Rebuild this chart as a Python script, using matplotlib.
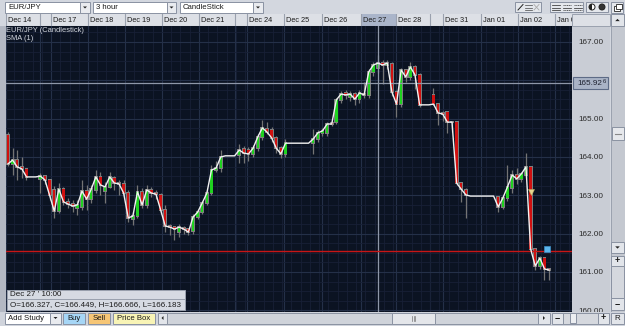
import matplotlib
matplotlib.use('Agg')
import matplotlib.pyplot as plt
from matplotlib.patches import Rectangle, Polygon, Circle, Wedge
from matplotlib.ticker import FixedLocator, MultipleLocator
from matplotlib import transforms

plt.rcParams['font.family'] = ['Liberation Sans', 'DejaVu Sans']

# ---------------- data (EUR/JPY, 3-hour candles) ----------------
opens = [164.57, 163.82, 163.92, 163.74, 163.69, 163.48, 163.48, 163.42, 163.50, 163.40,
         163.13, 162.59, 163.16, 162.83, 162.77, 162.67, 162.70, 163.11, 162.90, 163.14,
         163.48, 163.10, 163.22, 163.45, 163.32, 163.30, 163.06, 162.38, 162.46, 163.09,
         162.75, 163.14, 163.06, 163.01, 162.62, 162.20, 162.17, 162.04, 162.15, 162.12,
         162.07, 162.43, 162.56, 162.80, 163.06, 163.66, 163.71, 164.03, 164.03, 164.03,
         164.05, 164.21, 164.18, 164.08, 164.23, 164.52, 164.73, 164.70, 164.50, 164.23,
         164.08, 164.36, 164.36, 164.36, 164.36, 164.36, 164.36, 164.47, 164.63, 164.63,
         164.89, 164.91, 165.49, 165.67, 165.57, 165.64, 165.51, 165.64, 165.62, 166.22,
         166.327, 166.45, 166.40, 166.43, 165.70, 165.38, 166.27, 166.09, 166.35, 166.14,
         165.36, 165.36, 165.62, 165.38, 165.15, 165.17, 164.91, 164.91, 163.32, 163.14,
         162.98, 162.98, 162.98, 162.98, 162.98, 162.98, 162.96, 162.70, 162.93, 163.19,
         163.53, 163.43, 163.53, 163.74, 161.60, 161.16, 161.36, 161.08]
highs = [164.65, 164.23, 164.18, 164.00, 163.72, 163.48, 163.48, 163.58, 163.52, 163.42,
         163.23, 163.32, 163.21, 162.93, 162.88, 162.88, 163.40, 163.27, 163.27, 163.66,
         163.61, 163.35, 163.61, 163.50, 163.40, 163.40, 163.14, 162.56, 163.27, 163.19,
         163.27, 163.22, 163.14, 163.06, 162.75, 162.25, 162.20, 162.25, 162.20, 162.15,
         162.50, 162.62, 162.85, 163.14, 163.79, 163.90, 164.18, 164.03, 164.03, 164.03,
         164.35, 164.28, 164.25, 164.30, 164.60, 164.96, 164.90, 164.78, 164.55, 164.28,
         164.47, 164.36, 164.36, 164.36, 164.36, 164.36, 164.73, 164.70, 164.75, 164.92,
         164.95, 165.55, 165.72, 165.75, 165.72, 165.70, 165.75, 165.95, 166.30, 166.48,
         166.666, 166.52, 166.52, 166.48, 165.75, 166.32, 166.30, 166.48, 166.40, 166.18,
         165.36, 165.36, 165.80, 165.40, 165.20, 165.20, 164.95, 164.93, 163.35, 163.18,
         162.98, 162.98, 162.98, 162.98, 162.98, 162.98, 162.98, 162.98, 163.79, 163.65,
         163.70, 163.62, 164.10, 163.76, 161.62, 161.42, 161.40, 161.10]
lows = [163.77, 163.53, 163.40, 163.45, 163.40, 163.48, 163.48, 163.06, 163.30, 162.88,
        162.40, 162.54, 162.75, 162.67, 162.56, 162.49, 162.62, 162.62, 162.80, 163.06,
        163.00, 162.80, 163.18, 163.14, 163.00, 162.98, 162.30, 162.23, 162.41, 162.67,
        162.67, 162.96, 162.90, 162.51, 162.04, 161.96, 161.84, 161.90, 161.98, 161.96,
        162.00, 162.38, 162.51, 162.75, 163.00, 163.60, 163.61, 164.03, 164.03, 164.03,
        163.85, 163.85, 163.90, 164.00, 164.15, 164.45, 164.60, 164.40, 164.10, 163.97,
        164.00, 164.36, 164.36, 164.36, 164.36, 164.36, 164.08, 164.40, 164.55, 164.55,
        164.80, 164.86, 165.40, 165.50, 165.45, 165.35, 165.40, 165.55, 165.55, 166.10,
        166.183, 165.90, 166.30, 165.60, 165.05, 165.30, 165.95, 166.00, 165.77, 165.30,
        165.36, 165.36, 165.35, 164.83, 164.95, 164.63, 164.65, 163.28, 162.83, 162.41,
        162.98, 162.98, 162.98, 162.98, 162.98, 162.98, 162.56, 162.65, 162.85, 163.05,
        163.30, 163.35, 163.45, 161.55, 161.05, 161.08, 160.79, 160.80]
closes = [163.82, 163.92, 163.74, 163.69, 163.48, 163.48, 163.48, 163.50, 163.40, 163.00,
          162.59, 163.16, 162.83, 162.77, 162.72, 162.75, 163.11, 162.90, 163.16, 163.48,
          163.27, 163.22, 163.48, 163.32, 163.30, 163.06, 162.41, 162.46, 163.09, 162.75,
          163.14, 163.06, 163.03, 162.62, 162.20, 162.17, 162.12, 162.17, 162.12, 162.04,
          162.43, 162.56, 162.80, 163.06, 163.66, 163.71, 164.00, 164.03, 164.03, 164.03,
          164.18, 164.10, 164.08, 164.23, 164.52, 164.76, 164.65, 164.50, 164.23, 164.08,
          164.36, 164.36, 164.36, 164.36, 164.36, 164.36, 164.47, 164.63, 164.68, 164.86,
          164.86, 165.49, 165.64, 165.62, 165.64, 165.51, 165.67, 165.62, 166.22, 166.40,
          166.449, 166.40, 166.45, 165.70, 165.38, 166.27, 166.09, 166.35, 166.14, 165.36,
          165.36, 165.36, 165.38, 165.15, 165.12, 164.91, 164.91, 163.32, 163.16, 163.01,
          162.98, 162.98, 162.98, 162.98, 162.98, 162.98, 162.70, 162.93, 163.22, 163.53,
          163.43, 163.56, 163.74, 161.60, 161.16, 161.36, 161.08, 161.05]
bar_index = list(range(len(closes)))

day_labels = ['Dec 14', '', 'Dec 17', 'Dec 18', 'Dec 19', 'Dec 20', 'Dec 21', '',
              'Dec 24', 'Dec 25', 'Dec 26', 'Dec 27', 'Dec 28', '', 'Dec 31',
              'Jan 01', 'Jan 02', 'Jan 0']
day_starts = [-0.43, 6.9, 9.3, 17.3, 25.3, 33.3, 41.3, 49.1, 51.7, 59.7, 67.9,
              76.3, 83.9, 91.2, 94.1, 102.3, 110.3, 118.3]
highlight_day = 'Dec 27'
price_ticks = [160, 161, 162, 163, 164, 165, 166, 167]
cursor_bar = 80
cursor_price = 165.926
alert_price = 161.56
square_mark = (116.5, 161.60)
triangle_mark = (113.1, 163.09)
info_line1 = "Dec 27 ' 10:00"
info_line2 = "O=166.327, C=166.449, H=166.666, L=166.183"

# ---------------- figure ----------------
W, H = 625, 326
fig = plt.figure(figsize=(W / 100, H / 100), dpi=100)
fig.patch.set_facecolor('#d3d7df')


def px_axes(x0, y0, x1, y1, z=0):
    return fig.add_axes([x0 / W, 1 - y1 / H, (x1 - x0) / W, (y1 - y0) / H], zorder=z)


def clean(a):
    a.tick_params(which='both', length=0, labelbottom=False, labelleft=False)
    for s in a.spines.values():
        s.set_visible(False)


XLIM = (-0.43, 121.95)
YLIM = (159.956, 167.417)

# main price panel
ax = px_axes(6, 26, 572, 312, z=1)
ax.set_facecolor('#0b1322')
ax.set_xlim(*XLIM)
ax.set_ylim(*YLIM)
ax.xaxis.set_major_locator(FixedLocator(day_starts))
ax.xaxis.set_minor_locator(MultipleLocator(2, offset=1.3))
ax.yaxis.set_major_locator(FixedLocator(price_ticks))
ax.yaxis.set_minor_locator(MultipleLocator(0.25))
ax.grid(which='major', color='#243048', lw=0.8)
ax.grid(which='minor', color='#172036', lw=0.6)
ax.set_axisbelow(True)
clean(ax)

# candles
wx, wl, wh = [], [], []
ox, ob, oh = [], [], []
bx, bb, bh, bc = [], [], [], []
for i in bar_index:
    o, h, l, c = opens[i], highs[i], lows[i], closes[i]
    if h - l < 1e-6:
        continue
    wx.append(i); wl.append(l); wh.append(h)
    lo, hi = min(o, c), max(o, c)
    ox.append(i); ob.append(lo - 0.025); oh.append(hi - lo + 0.05)
    bx.append(i); bb.append(lo); bh.append(max(hi - lo, 0.012))
    bc.append('#1fd21f' if c >= o else '#d01010')
ax.vlines(wx, wl, wh, color='#747474', lw=0.9, zorder=2)
ax.bar(ox, oh, bottom=ob, width=0.82, color='#7e7e7e', zorder=3)
ax.bar(bx, bh, bottom=bb, width=0.5, color=bc, zorder=4)

# SMA(1) line = closes
ax.plot(bar_index, closes, color='#f2f2f2', lw=1.0, zorder=6)

# crosshair, alert line, markers
ax.axhline(cursor_price, color='#8e97a8', lw=0.9, zorder=5)
ax.axvline(cursor_bar, color='#8e97a8', lw=0.9, zorder=5)
ax.axhline(alert_price, color='#c81616', lw=1.0, zorder=5)
ax.plot(*square_mark, marker='s', ms=4.2, color='#5cb6ec', mec='#3d8fc6', mew=0.5, zorder=7)
ax.plot(*triangle_mark, marker='v', ms=5, color='#e6d690', mec='#b8a860', mew=0.4, zorder=7)

# header (dates)
hd = px_axes(6, 14, 572, 26, z=1)
hd.set_facecolor('#dde0e6')
hd.set_xlim(*XLIM)
hd.set_ylim(0, 1)
clean(hd)
txt_off = transforms.offset_copy(hd.transData, fig=fig, x=2, y=0, units='dots')
for k, (lab, xs) in enumerate(zip(day_labels, day_starts)):
    if lab == highlight_day:
        hd.axvspan(xs, day_starts[k + 1], color='#aab5ca', lw=0)
    hd.axvline(xs, color='#9aa1ae', lw=0.8)
    hd.text(xs, 0.45, lab, transform=txt_off, fontsize=5.3, color='#1c1c1c',
            va='center', ha='left', clip_on=True)
hd.axhline(0, color='#9aa1ae', lw=0.8)

# right price axis
ra = px_axes(572, 26, 610, 312, z=1)
ra.set_facecolor('#c9cdd5')
ra.set_xlim(0, 1)
ra.set_ylim(*YLIM)
clean(ra)
box_half = 0.16
for p in price_ticks:
    if abs(p - cursor_price) < 2 * box_half:
        continue  # hidden behind the cursor price box
    ra.text(0.5, p - 0.02, f'{p:.2f}', ha='center', va='center', fontsize=5.9,
            color='#2a2a2a', clip_on=True)
ra.add_patch(Rectangle((0.03, cursor_price - box_half), 0.93, 2 * box_half,
                       fc='#a9b3c6', ec='#5d6b86', lw=0.8, zorder=3))
ra.text(0.80, cursor_price, f'{cursor_price:.3f}'[:-1], ha='right', va='center',
        fontsize=5.9, color='#1e2230', zorder=4)
ra.text(0.80, cursor_price + 0.05, f'{cursor_price:.3f}'[-1], ha='left', va='center',
        fontsize=4.2, color='#1e2230', zorder=4)

# ---------------- UI chrome overlay ----------------
ov = px_axes(0, 0, W, H, z=5)
ov.set_xlim(0, W)
ov.set_ylim(H, 0)
ov.axis('off')


def rect(x0, y0, x1, y1, fc, ec='#8a92a2', lw=0.7):
    ov.add_patch(Rectangle((x0, y0), x1 - x0, y1 - y0, fc=fc, ec=ec, lw=lw))


def tri(cx, cy, s, direction, color='#222222'):
    if direction == 'down':
        pts = [(cx - s, cy - s / 2), (cx + s, cy - s / 2), (cx, cy + s / 2)]
    elif direction == 'up':
        pts = [(cx - s, cy + s / 2), (cx + s, cy + s / 2), (cx, cy - s / 2)]
    elif direction == 'left':
        pts = [(cx + s / 2, cy - s), (cx + s / 2, cy + s), (cx - s / 2, cy)]
    else:
        pts = [(cx - s / 2, cy - s), (cx - s / 2, cy + s), (cx + s / 2, cy)]
    ov.add_patch(Polygon(pts, closed=True, fc=color, ec='none'))


def t(x, y, s, size=5.4, color='#1a1a1a', ha='left', weight='normal'):
    ov.text(x, y, s, fontsize=size, color=color, ha=ha, va='center', weight=weight)


# left strip
rect(0, 26, 6, 312, '#b3b8c3', ec='none')

# top toolbar dropdowns
for (x0, x1, xa, lab) in [(5, 80, 90, 'EUR/JPY'), (93, 167, 176, '3 hour'),
                          (180, 253, 263, 'CandleStick')]:
    rect(x0, 2, x1, 12.5, '#ffffff')
    rect(x1, 2, xa, 12.5, '#e9ebef')
    tri((x1 + xa) / 2, 7.5, 2.0, 'down')
    t(x0 + 3, 7.4, lab, size=5.6)

# top right icon buttons
rect(515, 2, 541, 12, '#e4e7ec')
ov.plot([518, 523], [10, 4.5], color='#222', lw=0.7)
for yy in (5, 7.5, 10):
    ov.plot([525, 532], [yy, yy], color='#444', lw=0.5)
ov.plot([534, 539], [10, 4.5], color='#aaa', lw=0.6)
ov.plot([534, 539], [4.5, 10], color='#aaa', lw=0.6)
rect(550, 2, 583, 12, '#e4e7ec')
for k, x0 in enumerate((551.5, 562.5, 573.5)):
    for yy in (4.5, 7.5, 10):
        ov.plot([x0, x0 + 8], [yy, yy], color='#333', lw=0.55,
                ls='-' if (k == 0 or yy == 7.5) else (0, (1.5, 0.8)))
rect(586, 2, 608, 12, '#e4e7ec')
ov.add_patch(Circle((592, 7), 3.0, fc='white', ec='#222', lw=0.7))
ov.add_patch(Wedge((592, 7), 3.0, 90, 270, fc='#222', ec='none'))
ov.add_patch(Circle((602, 7), 3.0, fc='#333', ec='#222', lw=0.7))
rect(611, 1.5, 623, 12.5, '#e4e7ec')
rect(613.5, 5.5, 619.5, 10.5, '#ffffff', ec='#222', lw=0.6)
rect(615.5, 3.5, 621.5, 8.5, '#ffffff', ec='#222', lw=0.6)

# header right blank cell + right scroll column
rect(572, 14, 610, 26, '#dde0e6', ec='#9aa1ae')
rect(610.5, 13.5, 624.5, 312, '#c4c8d0', ec='#9aa1ae')
rect(611, 14, 624, 26, '#e2e5ea')
tri(617.5, 20, 2.3, 'up')
rect(611.5, 127, 623.5, 140, '#e6e8ec')
ov.plot([614.5, 620.5], [133.5, 133.5], color='#888', lw=0.8)
rect(611, 242, 624, 253, '#e2e5ea')
tri(617.5, 247.5, 2.3, 'down')
rect(611, 256, 624, 266, '#e2e5ea')
t(617.5, 260.5, '+', size=6.5, ha='center', weight='bold')
rect(611, 266, 624, 298, '#d5d8de')
rect(611, 298, 624, 310, '#e2e5ea')
t(617.5, 304, '−', size=6.5, ha='center', weight='bold')

# bottom bar
rect(0, 312, 625, 326, '#d0d4dc', ec='none')
rect(5, 312.5, 50, 323.5, '#ffffff')
t(8, 318, 'Add Study', size=5.6)
rect(50, 312.5, 61, 323.5, '#e9ebef')
tri(55.5, 318, 2.0, 'down')
rect(63, 312.5, 85, 323.5, '#a6d6f6')
t(74, 318, 'Buy', size=5.6, ha='center')
rect(88, 312.5, 110, 323.5, '#f6c676')
t(99, 318, 'Sell', size=5.6, ha='center')
rect(113, 312.5, 155, 323.5, '#f8f4b6')
t(134, 318, 'Price Box', size=5.6, ha='center')
rect(158, 312.5, 167, 323.5, '#e2e5ea')
tri(162.5, 318, 2.0, 'left')
rect(167, 312.5, 538, 323.5, '#cfd3da')
rect(392, 312.5, 435, 323.5, '#e4e6ea')
for xx in (412, 413.5, 415):
    ov.plot([xx, xx], [315.5, 320.5], color='#777', lw=0.5)
rect(538, 312.5, 550, 323.5, '#e2e5ea')
tri(544, 318, 2.0, 'right')
rect(552, 312.5, 563, 323.5, '#e2e5ea')
t(557.5, 317.8, '−', size=6.5, ha='center', weight='bold')
rect(563, 312.5, 598, 323.5, '#d5d8de')
rect(570, 313, 576, 323, '#eceef1')
rect(598, 312.5, 609, 323.5, '#e2e5ea')
t(603.5, 317.8, '+', size=6.5, ha='center', weight='bold')
rect(611, 312.5, 624, 323.5, '#e2e5ea')
t(617.5, 318, 'R', size=5.8, ha='center')

# info box
rect(7, 289.5, 185, 299, '#d6dae2', ec='#9aa1ae')
rect(7, 299, 185, 309.5, '#d6dae2', ec='#9aa1ae')
t(10, 294.3, info_line1, size=5.8)
t(10, 304.3, info_line2, size=5.8)

# legend text in plot
t(6.5, 30.5, 'EUR/JPY (Candlestick)', size=5.4, color='#d6dae2')
t(6.5, 38.5, 'SMA (1)', size=5.4, color='#d6dae2')

fig.savefig('out.png', dpi=100, facecolor=fig.get_facecolor())
